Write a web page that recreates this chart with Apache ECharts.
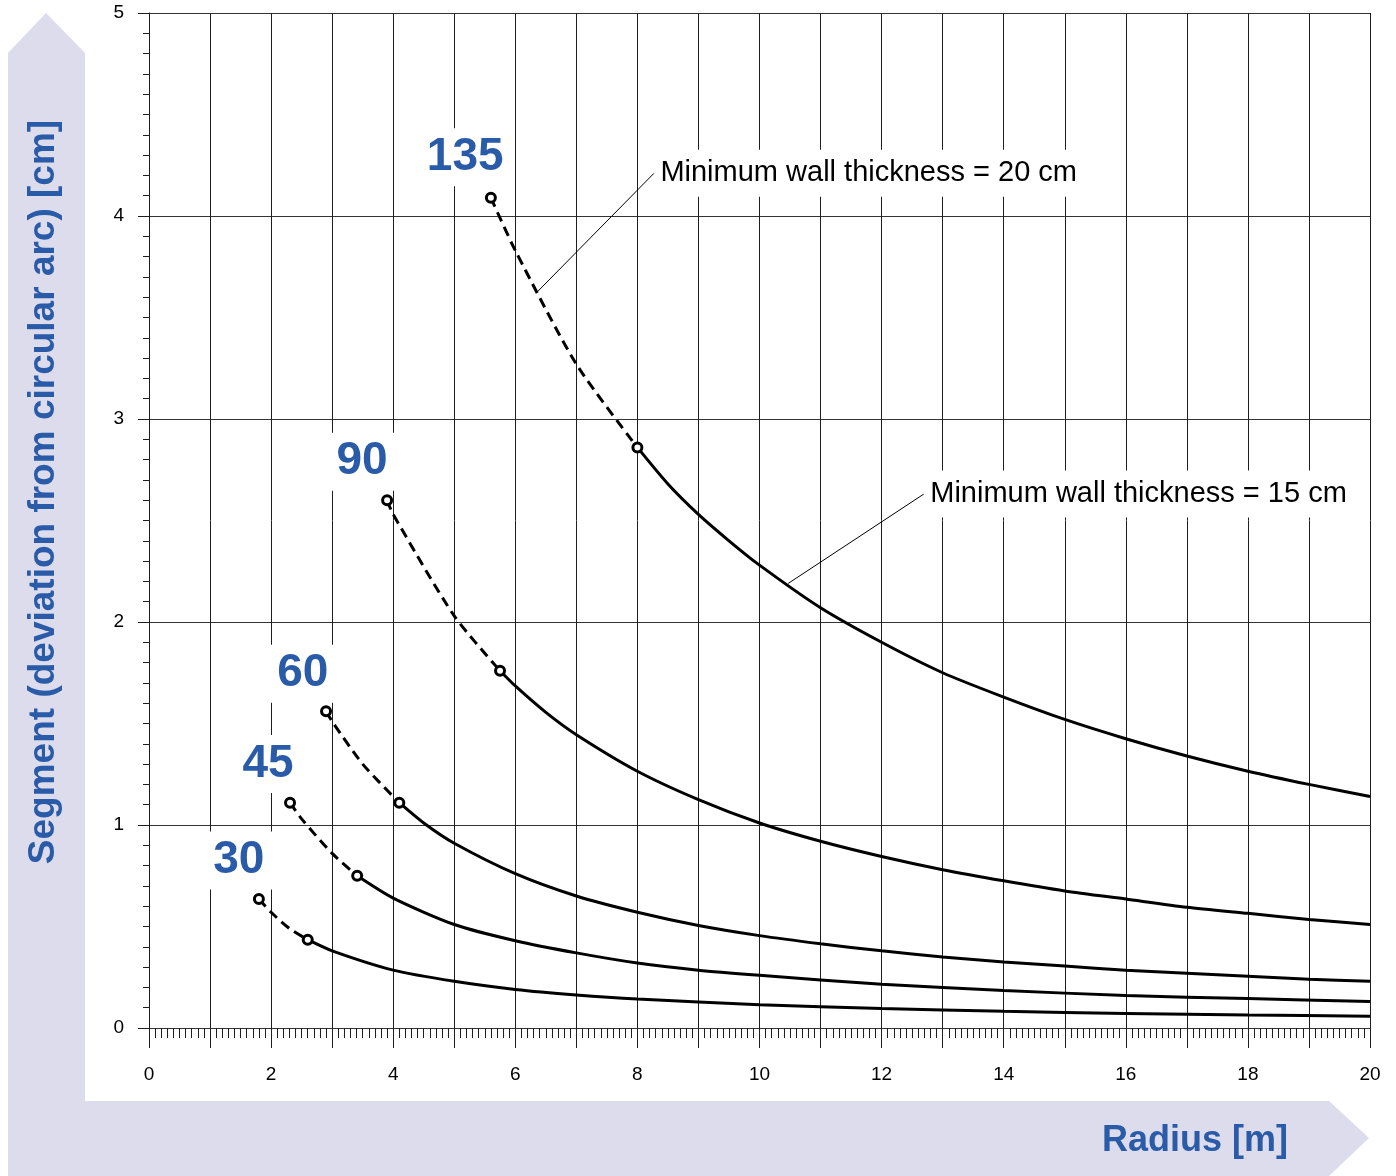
<!DOCTYPE html>
<html>
<head>
<meta charset="utf-8">
<script src="https://cdn.jsdelivr.net/npm/echarts@6/dist/echarts.min.js"></script>
<style>
html, body { margin: 0; padding: 0; background: #fff; }
#chart { width: 1396px; height: 1176px; }
</style>
</head>
<body>
<div id="chart"></div>
<script>
// Segment (deviation from circular arc) against radius, one curve per block angle.
// The dashed part of each curve lies where the wall would be thinner than 15 cm.
const angleNames = ['135', '90', '60', '45', '30'];

const dashed135 = [[5.6, 4.09], [6, 3.83], [7, 3.27], [8, 2.86]];
const solid135 = [[8, 2.86], [8.5, 2.68], [9, 2.53], [9.5, 2.40], [10, 2.28], [11, 2.07], [12, 1.90], [13, 1.75], [14, 1.63],
  [15, 1.52], [16, 1.425], [17, 1.34], [18, 1.265], [19, 1.20], [20, 1.14]];

const dashed90 = [[3.9, 2.60], [4, 2.53], [5, 2.03], [5.75, 1.76]];
const solid90 = [[5.75, 1.76], [6, 1.685], [6.5, 1.555], [7, 1.445], [8, 1.265], [9, 1.125], [10, 1.01], [11, 0.92],
  [12, 0.845], [13, 0.78], [14, 0.725], [15, 0.675], [16, 0.635], [17, 0.595], [18, 0.565], [19, 0.535], [20, 0.51]];

const dashed60 = [[2.9, 1.56], [3, 1.51], [3.5, 1.30], [4.1, 1.11]];
const solid60 = [[4.1, 1.11], [4.5, 1.01], [5, 0.91], [6, 0.76], [7, 0.65], [8, 0.57], [9, 0.505], [10, 0.455],
  [11, 0.415], [12, 0.38], [13, 0.35], [14, 0.325], [15, 0.305], [16, 0.285], [17, 0.27], [18, 0.255], [19, 0.24], [20, 0.23]];

const dashed45 = [[2.31, 1.11], [2.5, 1.03], [3, 0.86], [3.41, 0.75]];
const solid45 = [[3.41, 0.75], [4, 0.64], [5, 0.51], [6, 0.43], [7, 0.37], [8, 0.32], [9, 0.285],
  [10, 0.26], [12, 0.215], [14, 0.185], [16, 0.16], [18, 0.145], [20, 0.13]];

const dashed30 = [[1.8, 0.635], [2, 0.57], [2.3, 0.49], [2.6, 0.435]];
const solid30 = [[2.6, 0.435], [3, 0.38], [4, 0.285], [5, 0.23], [6, 0.19], [7, 0.163], [8, 0.143],
  [10, 0.115], [12, 0.096], [14, 0.082], [16, 0.072], [18, 0.064], [20, 0.058]];

const wallNotes = ['Minimum wall thickness = 20 cm', 'Minimum wall thickness = 15 cm'];
const xTitle = 'Radius [m]';
const yTitle = 'Segment (deviation from circular arc) [cm]';

const curves = [
  { dashed: dashed135, solid: solid135 },
  { dashed: dashed90, solid: solid90 },
  { dashed: dashed60, solid: solid60 },
  { dashed: dashed45, solid: solid45 },
  { dashed: dashed30, solid: solid30 }
];

// where each angle label sits, in data units
const angleLabelAt = [[5.18, 4.29], [3.49, 2.79], [2.52, 1.745], [1.95, 1.30], [1.47, 0.825]];
// leader lines from a curve to its note
const leaders = [
  [[6.34, 3.62], [8.27, 4.21]],
  [[10.47, 2.19], [12.69, 2.63]]
];

const BLUE = '#2a5ba8';
const LAVENDER = '#dcdcec';
const GRID = '#1e1e1e';
const FONT = 'Liberation Sans, Arial, sans-serif';

const chart = echarts.init(document.getElementById('chart'), null, { renderer: 'canvas' });

const series = [];
curves.forEach((c, i) => {
  series.push({
    type: 'line', name: angleNames[i] + ' dashed', data: c.dashed,
    smooth: 0.25, symbol: 'none', z: 3,
    lineStyle: { color: '#000', width: 3, type: [10, 6] }
  });
  series.push({
    type: 'line', name: angleNames[i] + ' solid', data: c.solid,
    smooth: 0.25, symbol: 'none', z: 3,
    lineStyle: { color: '#000', width: 3 }
  });
});

// open circles at the start of each curve and where the dashed part ends
series.push({
  type: 'scatter', name: 'limits',
  data: curves.flatMap(c => [c.dashed[0], c.solid[0]]),
  symbol: 'circle', symbolSize: 9, z: 4,
  itemStyle: { color: '#fff', borderColor: '#000', borderWidth: 3, opacity: 1 }
});

leaders.forEach((seg, i) => {
  series.push({
    type: 'line', name: 'leader ' + i, data: seg, symbol: 'none', z: 3,
    lineStyle: { color: '#000', width: 1 }
  });
});

// angle labels on white boxes
series.push({
  type: 'scatter', name: 'angles',
  data: angleLabelAt.map((p, i) => ({ value: p, name: angleNames[i] })),
  symbolSize: 1, itemStyle: { color: 'rgba(0,0,0,0)', opacity: 1 }, z: 5,
  label: {
    show: true, position: 'inside', formatter: p => p.name,
    fontFamily: FONT, fontWeight: 'bold', fontSize: 46, lineHeight: 46,
    color: BLUE, backgroundColor: '#fff', padding: [6, 8]
  }
});

// wall thickness notes next to the upper end of each leader
series.push({
  type: 'scatter', name: 'notes',
  data: leaders.map((seg, i) => ({ value: seg[1], name: wallNotes[i] })),
  symbolSize: 1, itemStyle: { color: 'rgba(0,0,0,0)', opacity: 1 }, z: 5,
  label: {
    show: true, position: 'right', distance: 2, formatter: p => p.name,
    fontFamily: FONT, fontSize: 29, lineHeight: 29,
    color: '#000', backgroundColor: '#fff', padding: [9, 4]
  }
});

chart.setOption({
  animation: false,
  backgroundColor: '#fff',
  grid: { left: 149, right: 26, top: 13, bottom: 148, containLabel: false },
  xAxis: {
    type: 'value', min: 0, max: 20, interval: 1,
    axisLine: { show: true, onZero: false, lineStyle: { color: '#333', width: 1 } },
    axisTick: { show: true, length: 20, lineStyle: { color: GRID, width: 1 } },
    minorTick: { show: true, splitNumber: 10, length: 10, lineStyle: { color: GRID, width: 1 } },
    splitLine: { show: true, lineStyle: { color: GRID, width: 1 } },
    axisLabel: {
      margin: 37, fontFamily: FONT, fontSize: 19, color: '#000',
      formatter: v => (v % 2 === 0 ? String(v) : '')
    }
  },
  yAxis: {
    type: 'value', min: 0, max: 5, interval: 1,
    axisLine: { show: true, onZero: false, lineStyle: { color: GRID, width: 1 } },
    axisTick: { show: true, length: 11, lineStyle: { color: GRID, width: 1 } },
    minorTick: { show: true, splitNumber: 10, length: 6, lineStyle: { color: GRID, width: 1 } },
    splitLine: { show: true, lineStyle: { color: '#333', width: 1 } },
    axisLabel: { margin: 25, fontFamily: FONT, fontSize: 19, color: '#000' }
  },
  graphic: [
    {
      type: 'polygon', z: -10, silent: true,
      shape: { points: [[8, 1176], [8, 53], [46, 13], [85, 53], [85, 1176]] },
      style: { fill: LAVENDER }
    },
    {
      type: 'polygon', z: -10, silent: true,
      shape: { points: [[8, 1101], [1329, 1101], [1369, 1138], [1329, 1176], [8, 1176]] },
      style: { fill: LAVENDER }
    },
    {
      type: 'text', z: 10, x: 44, y: 492, rotation: Math.PI / 2,
      style: {
        text: yTitle, fill: BLUE, font: 'bold 37px ' + FONT,
        textAlign: 'center', textVerticalAlign: 'middle'
      }
    },
    {
      type: 'text', z: 10, x: 1102, y: 1141,
      style: {
        text: xTitle, fill: BLUE, font: 'bold 36px ' + FONT,
        textAlign: 'left', textVerticalAlign: 'middle'
      }
    }
  ],
  series: series
});
</script>
</body>
</html>
